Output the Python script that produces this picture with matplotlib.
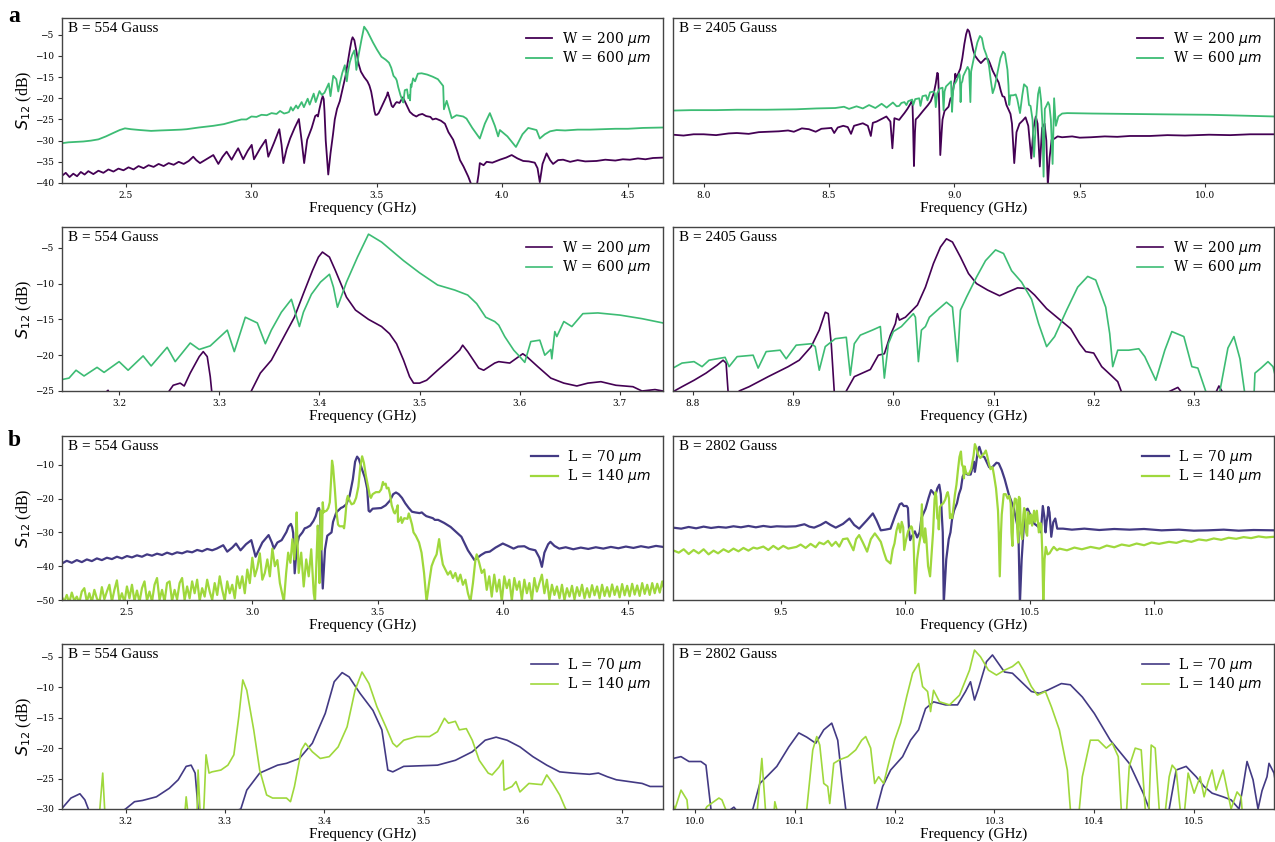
import matplotlib.pyplot as plt
import numpy as np

# S12 transmission spectra, columns: frequency (GHz), S12 (dB)
W200_554 = np.array([
    (2.245, -38.3), (2.26, -37.6), (2.275, -38.6), (2.29, -37.8), (2.305, -38.4), (2.32, -37.4),
    (2.335, -38.0), (2.35, -37.2), (2.37, -37.9), (2.39, -37.1), (2.41, -37.6), (2.43, -36.8),
    (2.45, -37.3), (2.47, -36.6), (2.49, -37.0), (2.51, -36.3), (2.53, -36.8), (2.55, -36.0),
    (2.57, -36.5), (2.59, -35.8), (2.61, -36.2), (2.63, -35.5), (2.65, -36.0), (2.67, -35.3),
    (2.69, -35.7), (2.71, -35.0), (2.73, -35.5), (2.75, -34.8), (2.768, -33.8), (2.78, -34.6),
    (2.795, -35.3), (2.82, -34.4), (2.848, -33.4), (2.868, -35.5), (2.885, -33.8), (2.901, -32.6),
    (2.921, -34.5), (2.935, -33.0), (2.947, -31.8), (2.967, -34.4), (2.985, -32.4), (3.001, -31.0),
    (3.010, -34.4), (3.035, -31.8), (3.057, -29.8), (3.067, -33.8), (3.09, -30.5), (3.111, -27.3),
    (3.120, -31.0), (3.127, -35.3), (3.14, -32.0), (3.154, -29.5), (3.172, -27.0), (3.189, -24.9),
    (3.200, -30.0), (3.210, -35.3), (3.222, -29.8), (3.240, -27.0), (3.250, -25.0), (3.254, -24.2),
    (3.261, -23.9), (3.265, -24.3), (3.271, -22.5), (3.280, -20.2), (3.284, -19.5), (3.288, -20.2),
    (3.291, -23.0), (3.296, -30.0), (3.306, -38.0), (3.315, -33.0), (3.325, -28.5), (3.332, -25.0),
    (3.341, -22.5), (3.352, -20.7), (3.362, -18.1), (3.375, -14.7), (3.384, -11.4), (3.393, -8.2),
    (3.399, -6.3), (3.403, -5.6), (3.410, -6.3), (3.416, -8.2), (3.427, -11.9), (3.436, -13.7),
    (3.449, -15.0), (3.462, -16.0), (3.470, -17.0), (3.477, -18.4), (3.484, -20.7), (3.490, -23.0),
    (3.494, -23.9), (3.500, -23.9), (3.507, -23.5), (3.518, -22.1), (3.531, -20.5), (3.540, -19.3),
    (3.543, -18.6), (3.548, -19.5), (3.559, -21.8), (3.564, -22.1), (3.575, -21.1), (3.579, -20.9),
    (3.590, -21.1), (3.603, -19.8), (3.607, -20.2), (3.618, -21.6), (3.631, -23.2), (3.644, -23.9),
    (3.657, -24.3), (3.668, -23.9), (3.681, -23.7), (3.696, -24.2), (3.713, -24.4), (3.722, -25.0),
    (3.735, -24.8), (3.755, -25.3), (3.771, -26.0), (3.785, -28.0), (3.804, -29.8), (3.82, -32.5),
    (3.831, -34.6), (3.845, -36.1), (3.864, -38.5), (3.880, -41.0), (3.897, -41.0), (3.905, -38.0),
    (3.910, -35.3), (3.925, -35.8), (3.937, -35.0), (3.96, -35.2), (3.990, -34.5), (4.015, -34.0),
    (4.037, -33.4), (4.06, -34.2), (4.083, -34.8), (4.105, -34.9), (4.129, -35.2), (4.140, -36.5),
    (4.149, -39.8), (4.160, -35.5), (4.176, -33.0), (4.190, -34.6), (4.202, -35.5), (4.222, -34.6),
    (4.242, -34.5), (4.27, -35.0), (4.30, -34.6), (4.33, -34.9), (4.375, -34.8), (4.41, -34.5),
    (4.45, -34.7), (4.48, -34.4), (4.508, -34.5), (4.54, -34.2), (4.57, -34.4), (4.60, -34.1),
    (4.64, -34.0),
])

W600_554 = np.array([
    (2.245, -30.6), (2.27, -30.4), (2.30, -30.3), (2.33, -30.2), (2.36, -30.0), (2.39, -29.7),
    (2.42, -29.0), (2.449, -28.2), (2.475, -27.5), (2.496, -27.1), (2.52, -27.3), (2.556, -27.5),
    (2.60, -27.7), (2.635, -27.6), (2.68, -27.5), (2.72, -27.4), (2.742, -27.3), (2.79, -26.9),
    (2.848, -26.5), (2.89, -26.1), (2.927, -25.5), (2.96, -25.0), (2.98, -25.0), (3.0, -24.3),
    (3.02, -24.4), (3.04, -23.9), (3.061, -24.0), (3.08, -23.5), (3.10, -23.7), (3.114, -23.0),
    (3.13, -23.6), (3.143, -23.4), (3.150, -23.2), (3.157, -22.1), (3.165, -22.9), (3.178, -21.7),
    (3.185, -22.4), (3.200, -20.9), (3.209, -22.1), (3.224, -20.1), (3.232, -21.5), (3.248, -18.9),
    (3.256, -20.9), (3.271, -18.3), (3.280, -19.2), (3.291, -18.7), (3.308, -16.5), (3.315, -19.5),
    (3.326, -14.7), (3.338, -15.5), (3.346, -18.4), (3.352, -16.5), (3.362, -14.0), (3.372, -12.2),
    (3.380, -16.0), (3.384, -14.0), (3.392, -11.5), (3.401, -9.8), (3.410, -8.7), (3.414, -10.5),
    (3.418, -13.3), (3.427, -9.8), (3.438, -6.3), (3.449, -3.1), (3.462, -4.2), (3.484, -6.8),
    (3.500, -8.5), (3.518, -10.2), (3.535, -10.9), (3.548, -11.6), (3.557, -12.8), (3.566, -14.7),
    (3.575, -15.3), (3.579, -15.8), (3.585, -17.4), (3.594, -19.3), (3.600, -20.2), (3.605, -21.0),
    (3.611, -18.1), (3.620, -17.9), (3.625, -20.0), (3.631, -19.2), (3.632, -20.5), (3.635, -16.7),
    (3.637, -17.4), (3.644, -15.3), (3.652, -16.0), (3.663, -14.2), (3.678, -14.1), (3.700, -14.4),
    (3.722, -14.9), (3.743, -15.5), (3.764, -17.1), (3.767, -22.6), (3.778, -20.6), (3.798, -24.7),
    (3.817, -24.0), (3.844, -24.3), (3.857, -24.8), (3.88, -27.0), (3.910, -29.5), (3.93, -26.0),
    (3.950, -23.5), (3.970, -26.5), (3.983, -29.0), (3.990, -27.5), (4.02, -29.0), (4.054, -31.5),
    (4.08, -28.5), (4.103, -27.0), (4.136, -27.5), (4.149, -29.5), (4.169, -28.5), (4.19, -27.8),
    (4.216, -27.5), (4.25, -27.6), (4.30, -27.4), (4.35, -27.4), (4.40, -27.3), (4.45, -27.2),
    (4.50, -27.2), (4.56, -27.0), (4.64, -26.9),
])

W200_2405 = np.array([
    (7.878, -28.6), (7.92, -28.8), (7.96, -28.5), (8.0, -28.5), (8.05, -28.7), (8.10, -28.3),
    (8.133, -28.2), (8.18, -28.4), (8.22, -28.0), (8.259, -27.9), (8.30, -27.8), (8.337, -27.6),
    (8.36, -27.9), (8.392, -27.1), (8.42, -27.3), (8.447, -27.9), (8.47, -27.2), (8.51, -27.0),
    (8.521, -28.2), (8.535, -26.9), (8.557, -26.5), (8.575, -26.8), (8.588, -28.4), (8.60, -26.5),
    (8.635, -25.9), (8.655, -26.5), (8.667, -28.9), (8.675, -25.8), (8.69, -25.5), (8.729, -24.3),
    (8.745, -25.5), (8.753, -31.8), (8.761, -24.7), (8.780, -25.1), (8.789, -24.4), (8.801, -23.5),
    (8.813, -22.5), (8.824, -21.4), (8.830, -20.7), (8.833, -21.1), (8.835, -25.1), (8.839, -36.0),
    (8.843, -28.0), (8.846, -25.0), (8.856, -24.4), (8.875, -23.0), (8.895, -21.6), (8.906, -20.7),
    (8.918, -18.8), (8.926, -16.5), (8.932, -14.0), (8.935, -14.2), (8.938, -18.4), (8.941, -25.1),
    (8.944, -33.4), (8.950, -27.5), (8.953, -25.0), (8.961, -23.0), (8.969, -22.5), (8.977, -22.0),
    (8.985, -20.0), (8.991, -19.8), (8.997, -17.2), (9.002, -15.6), (9.004, -14.2), (9.006, -15.1),
    (9.012, -14.7), (9.024, -13.0), (9.032, -10.5), (9.040, -7.2), (9.047, -4.9), (9.053, -3.75),
    (9.059, -4.2), (9.067, -6.3), (9.075, -8.6), (9.083, -10.0), (9.094, -10.9), (9.106, -11.7),
    (9.114, -11.2), (9.124, -10.6), (9.134, -10.7), (9.141, -11.6), (9.153, -13.5), (9.165, -14.9),
    (9.177, -16.3), (9.186, -18.4), (9.192, -19.5), (9.200, -19.7), (9.208, -21.6), (9.218, -22.9),
    (9.224, -23.7), (9.230, -26.0), (9.239, -35.3), (9.248, -28.0), (9.260, -26.0), (9.272, -25.3),
    (9.284, -24.5), (9.295, -26.5), (9.307, -34.2), (9.316, -27.0), (9.325, -24.3), (9.332, -26.0),
    (9.341, -36.1), (9.350, -27.0), (9.360, -26.0), (9.367, -30.0), (9.373, -40.5), (9.380, -34.0),
    (9.388, -29.8), (9.400, -29.5), (9.412, -29.0), (9.43, -29.2), (9.47, -29.0), (9.50, -29.3),
    (9.545, -29.2), (9.60, -29.0), (9.65, -29.1), (9.70, -28.9), (9.78, -28.9), (9.85, -28.7),
    (9.92, -28.8), (10.016, -28.6), (10.10, -28.7), (10.18, -28.5), (10.28, -28.5),
])

W600_2405 = np.array([
    (7.878, -22.9), (7.95, -22.8), (8.05, -22.8), (8.133, -22.7), (8.25, -22.7), (8.369, -22.6),
    (8.45, -22.4), (8.525, -22.3), (8.56, -22.0), (8.58, -22.5), (8.61, -21.9), (8.635, -22.4),
    (8.66, -21.6), (8.685, -22.3), (8.71, -21.3), (8.73, -22.2), (8.755, -21.0), (8.77, -21.9),
    (8.780, -21.8), (8.789, -21.1), (8.801, -20.9), (8.809, -21.6), (8.816, -20.7), (8.832, -20.3),
    (8.836, -21.6), (8.844, -20.2), (8.860, -20.0), (8.865, -21.8), (8.873, -19.5), (8.887, -19.3),
    (8.893, -20.5), (8.903, -18.6), (8.918, -18.4), (8.922, -18.8), (8.926, -22.1), (8.932, -18.8),
    (8.942, -17.7), (8.953, -17.5), (8.957, -22.8), (8.961, -18.4), (8.967, -17.2), (8.979, -16.5),
    (8.987, -16.0), (8.991, -23.2), (8.995, -18.4), (9.000, -16.7), (9.008, -16.0), (9.020, -14.2),
    (9.022, -14.7), (9.025, -20.9), (9.028, -16.5), (9.032, -16.0), (9.036, -14.7), (9.044, -13.7),
    (9.053, -12.6), (9.059, -13.3), (9.064, -20.9), (9.067, -13.7), (9.073, -11.9), (9.083, -9.1),
    (9.092, -6.8), (9.102, -5.3), (9.110, -5.8), (9.118, -8.2), (9.128, -9.8), (9.138, -12.2),
    (9.145, -15.6), (9.153, -18.8), (9.161, -17.4), (9.173, -13.7), (9.184, -10.5), (9.194, -9.0),
    (9.202, -9.5), (9.212, -13.3), (9.216, -17.0), (9.219, -21.6), (9.224, -19.3), (9.235, -19.3),
    (9.245, -19.1), (9.251, -20.2), (9.262, -23.5), (9.271, -19.3), (9.278, -16.7), (9.290, -17.4),
    (9.298, -21.6), (9.304, -21.8), (9.312, -25.1), (9.318, -33.8), (9.326, -25.0), (9.334, -19.0),
    (9.340, -17.4), (9.346, -20.5), (9.351, -25.5), (9.356, -38.5), (9.361, -22.5), (9.367, -21.8),
    (9.374, -20.9), (9.379, -21.6), (9.385, -25.0), (9.392, -35.5), (9.398, -20.0), (9.405, -26.5),
    (9.415, -24.3), (9.43, -23.6), (9.45, -23.5), (9.55, -23.6), (9.70, -23.7), (9.85, -23.8),
    (10.016, -23.9), (10.15, -24.1), (10.28, -24.3),
])

L70_554 = np.array([
    (2.241, -39.2), (2.26, -38.4), (2.28, -39.0), (2.30, -38.2), (2.32, -38.8), (2.34, -38.0),
    (2.36, -38.5), (2.38, -37.7), (2.40, -38.2), (2.42, -37.5), (2.44, -37.9), (2.46, -37.2),
    (2.48, -37.7), (2.50, -37.0), (2.52, -37.4), (2.54, -36.8), (2.56, -37.2), (2.58, -36.5),
    (2.60, -36.9), (2.62, -36.3), (2.64, -36.7), (2.66, -36.0), (2.68, -36.5), (2.70, -35.9),
    (2.72, -36.2), (2.74, -35.6), (2.76, -35.9), (2.78, -35.2), (2.80, -35.6), (2.82, -34.9),
    (2.84, -35.3), (2.858, -34.8), (2.884, -33.8), (2.90, -35.7), (2.92, -34.5), (2.935, -33.3),
    (2.953, -35.3), (2.975, -33.5), (2.996, -32.3), (3.013, -37.2), (3.04, -33.0), (3.065, -30.8),
    (3.078, -33.0), (3.086, -34.8), (3.10, -33.0), (3.117, -32.3), (3.136, -29.9), (3.145, -28.2),
    (3.154, -27.5), (3.159, -28.5), (3.163, -30.2), (3.169, -42.1), (3.178, -34.0), (3.186, -31.3),
    (3.200, -30.0), (3.209, -28.8), (3.217, -28.6), (3.231, -28.0), (3.244, -26.6), (3.253, -25.2),
    (3.261, -23.0), (3.266, -22.8), (3.270, -24.1), (3.273, -30.0), (3.281, -46.6), (3.290, -35.0),
    (3.299, -31.0), (3.316, -30.0), (3.322, -26.9), (3.335, -24.1), (3.353, -22.8), (3.362, -22.5),
    (3.375, -21.7), (3.388, -19.2), (3.401, -14.3), (3.410, -9.1), (3.418, -7.6), (3.425, -8.3),
    (3.436, -11.0), (3.449, -13.8), (3.458, -17.0), (3.464, -23.6), (3.469, -23.9), (3.480, -23.0),
    (3.497, -22.9), (3.514, -22.8), (3.532, -22.0), (3.549, -20.6), (3.562, -18.7), (3.573, -18.2),
    (3.584, -18.7), (3.597, -19.8), (3.610, -21.4), (3.624, -22.8), (3.637, -23.9), (3.650, -24.1),
    (3.667, -24.3), (3.676, -24.1), (3.685, -24.7), (3.694, -25.2), (3.707, -25.5), (3.720, -25.8),
    (3.728, -26.3), (3.741, -26.3), (3.765, -27.2), (3.791, -28.4), (3.812, -29.8), (3.834, -31.3),
    (3.86, -35.3), (3.875, -37.0), (3.886, -38.2), (3.900, -37.4), (3.912, -36.7), (3.93, -35.9),
    (3.947, -35.7), (3.97, -34.5), (3.999, -33.3), (4.02, -34.0), (4.042, -34.8), (4.06, -34.2),
    (4.085, -34.1), (4.105, -34.9), (4.129, -35.3), (4.145, -37.5), (4.155, -40.2), (4.165, -36.0),
    (4.18, -33.5), (4.189, -32.8), (4.205, -34.0), (4.224, -34.8), (4.25, -34.4), (4.28, -35.0),
    (4.31, -34.5), (4.34, -34.9), (4.37, -34.4), (4.40, -34.8), (4.43, -34.3), (4.46, -34.7),
    (4.49, -34.2), (4.52, -34.6), (4.55, -34.1), (4.58, -34.5), (4.61, -34.0), (4.638, -34.3),
])

L140_554 = np.array([
    (2.24, -49.0), (2.25, -50.5), (2.26, -48.5), (2.27, -50.8), (2.28, -47.8), (2.29, -50.2),
    (2.30, -49.0), (2.31, -50.8), (2.32, -47.5), (2.33, -46.5), (2.34, -50.5), (2.35, -48.0),
    (2.36, -50.6), (2.37, -47.0), (2.38, -49.5), (2.39, -50.8), (2.40, -46.2), (2.41, -49.8),
    (2.42, -47.5), (2.43, -45.5), (2.44, -50.5), (2.45, -47.0), (2.46, -44.2), (2.47, -50.2),
    (2.48, -48.0), (2.49, -50.7), (2.50, -46.0), (2.51, -49.5), (2.52, -45.5), (2.53, -50.3),
    (2.54, -47.2), (2.55, -50.6), (2.56, -46.5), (2.57, -44.5), (2.58, -50.2), (2.59, -47.5),
    (2.60, -50.5), (2.61, -45.5), (2.62, -43.5), (2.63, -50.0), (2.64, -47.0), (2.65, -50.5),
    (2.66, -45.0), (2.67, -44.5), (2.68, -50.3), (2.69, -47.0), (2.70, -49.8), (2.71, -45.0),
    (2.72, -43.5), (2.73, -50.0), (2.74, -46.0), (2.75, -49.5), (2.76, -44.5), (2.77, -48.0),
    (2.78, -44.0), (2.79, -50.2), (2.80, -46.5), (2.81, -49.0), (2.82, -44.0), (2.83, -47.5),
    (2.84, -50.0), (2.85, -45.0), (2.86, -48.5), (2.87, -43.0), (2.88, -47.0), (2.89, -50.2),
    (2.90, -44.5), (2.91, -48.0), (2.92, -45.5), (2.93, -49.5), (2.94, -43.0), (2.95, -46.5),
    (2.96, -43.0), (2.97, -48.0), (2.98, -41.0), (2.99, -45.0), (3.00, -37.5), (3.01, -43.0),
    (3.02, -40.5), (3.03, -36.2), (3.04, -44.0), (3.05, -42.0), (3.06, -38.0), (3.07, -43.0),
    (3.08, -34.8), (3.09, -40.0), (3.10, -38.2), (3.11, -45.0), (3.12, -48.5), (3.126, -50.5),
    (3.135, -42.0), (3.143, -36.0), (3.152, -39.0), (3.16, -32.0), (3.168, -38.0), (3.174, -30.2),
    (3.177, -24.1), (3.179, -30.2), (3.185, -42.0), (3.195, -36.0), (3.205, -46.0), (3.215, -38.0),
    (3.225, -43.0), (3.235, -35.0), (3.245, -48.0), (3.25, -50.5), (3.255, -40.0), (3.260, -30.0),
    (3.261, -28.0), (3.263, -31.0), (3.268, -45.0), (3.272, -30.5), (3.273, -23.6), (3.275, -30.5),
    (3.277, -35.0), (3.279, -29.1), (3.281, -21.1), (3.284, -24.1), (3.287, -23.9), (3.296, -23.6),
    (3.303, -22.8), (3.309, -21.1), (3.314, -14.8), (3.318, -8.8), (3.322, -10.5), (3.329, -17.0),
    (3.335, -23.6), (3.342, -27.7), (3.348, -28.2), (3.362, -28.2), (3.366, -28.8), (3.370, -26.3),
    (3.377, -20.3), (3.381, -19.2), (3.388, -20.6), (3.396, -21.7), (3.405, -21.4), (3.414, -19.8),
    (3.423, -16.5), (3.431, -10.5), (3.438, -7.5), (3.445, -9.4), (3.453, -13.2), (3.462, -16.5),
    (3.469, -19.2), (3.473, -19.8), (3.480, -18.7), (3.493, -18.1), (3.506, -18.1), (3.514, -17.3),
    (3.521, -15.1), (3.525, -15.9), (3.532, -15.6), (3.536, -17.0), (3.543, -16.8), (3.549, -18.7),
    (3.556, -22.0), (3.565, -24.1), (3.569, -24.4), (3.576, -23.1), (3.580, -22.0), (3.581, -26.9),
    (3.589, -26.3), (3.593, -25.5), (3.597, -27.2), (3.606, -25.8), (3.619, -26.0), (3.624, -24.4),
    (3.630, -25.8), (3.637, -27.7), (3.643, -30.0), (3.652, -31.0), (3.665, -33.0), (3.675, -36.0),
    (3.685, -42.0), (3.695, -50.5), (3.705, -45.0), (3.715, -40.0), (3.725, -38.0), (3.735, -36.5),
    (3.745, -32.0), (3.752, -36.0), (3.76, -39.5), (3.77, -41.0), (3.78, -42.5), (3.79, -41.5),
    (3.80, -43.5), (3.81, -42.0), (3.82, -44.5), (3.83, -42.5), (3.84, -45.5), (3.85, -44.0),
    (3.86, -48.0), (3.87, -50.5), (3.88, -45.0), (3.89, -38.0), (3.895, -36.5), (3.905, -39.0),
    (3.915, -42.0), (3.925, -41.0), (3.935, -47.0), (3.945, -43.0), (3.955, -49.0), (3.965, -42.5),
    (3.975, -47.5), (3.985, -44.0), (3.995, -50.5), (4.005, -43.0), (4.015, -46.5), (4.025, -44.0),
    (4.035, -50.2), (4.045, -43.5), (4.055, -47.0), (4.065, -44.5), (4.075, -50.0), (4.085, -44.0),
    (4.095, -48.0), (4.105, -45.0), (4.115, -50.2), (4.125, -43.5), (4.135, -47.5), (4.145, -45.0),
    (4.155, -42.5), (4.165, -48.0), (4.175, -44.0), (4.185, -50.0), (4.195, -45.5), (4.205, -48.5),
    (4.215, -46.0), (4.225, -49.5), (4.235, -45.5), (4.245, -50.0), (4.255, -46.5), (4.265, -49.0),
    (4.275, -45.8), (4.285, -49.8), (4.295, -46.2), (4.305, -48.8), (4.315, -45.5), (4.325, -49.5),
    (4.335, -46.5), (4.345, -49.2), (4.355, -45.6), (4.365, -48.6), (4.375, -46.0), (4.385, -49.5),
    (4.395, -45.5), (4.405, -48.8), (4.415, -46.2), (4.425, -49.0), (4.435, -45.4), (4.445, -48.5),
    (4.455, -46.0), (4.465, -49.2), (4.475, -45.3), (4.485, -48.6), (4.495, -45.8), (4.505, -48.9),
    (4.515, -45.2), (4.525, -48.4), (4.535, -45.7), (4.545, -48.8), (4.555, -45.0), (4.565, -48.2),
    (4.575, -45.5), (4.585, -48.5), (4.595, -45.0), (4.605, -48.0), (4.615, -45.2), (4.625, -47.8),
    (4.635, -44.5), (4.64, -46.0),
])

L70_2802 = np.array([
    (9.067, -28.6), (9.10, -28.9), (9.13, -28.4), (9.16, -28.8), (9.19, -28.3), (9.22, -28.7),
    (9.25, -28.4), (9.28, -28.6), (9.31, -28.2), (9.34, -28.5), (9.37, -28.1), (9.40, -28.5),
    (9.43, -28.1), (9.46, -28.4), (9.484, -28.2), (9.52, -28.3), (9.56, -28.2), (9.595, -27.6),
    (9.615, -28.3), (9.634, -28.6), (9.66, -27.8), (9.681, -26.9), (9.70, -27.8), (9.721, -28.6),
    (9.75, -27.5), (9.776, -25.9), (9.795, -27.8), (9.815, -28.9), (9.845, -26.5), (9.870, -24.4),
    (9.885, -26.5), (9.902, -29.4), (9.920, -29.2), (9.941, -28.9), (9.960, -25.0), (9.978, -21.7),
    (9.986, -21.4), (9.994, -22.2), (10.006, -22.2), (10.011, -22.8), (10.016, -30.0), (10.020, -32.3),
    (10.028, -31.0), (10.039, -29.7), (10.048, -31.5), (10.058, -30.0), (10.065, -25.8), (10.073, -24.5),
    (10.082, -23.0), (10.094, -19.8), (10.104, -17.5), (10.112, -18.2), (10.121, -19.2), (10.129, -17.0),
    (10.137, -15.9), (10.143, -18.7), (10.147, -24.7), (10.151, -30.0), (10.155, -51.0), (10.165, -38.0),
    (10.175, -32.0), (10.182, -30.0), (10.188, -26.3), (10.196, -23.6), (10.208, -21.4), (10.216, -18.7),
    (10.224, -17.0), (10.231, -13.5), (10.239, -12.4), (10.251, -12.9), (10.263, -12.9), (10.271, -10.7),
    (10.276, -9.1), (10.280, -12.1), (10.284, -10.2), (10.292, -5.8), (10.298, -4.7), (10.304, -6.1),
    (10.310, -7.5), (10.318, -7.7), (10.325, -8.8), (10.337, -10.7), (10.345, -11.0), (10.353, -10.5),
    (10.367, -9.4), (10.376, -9.6), (10.388, -11.6), (10.400, -14.3), (10.416, -18.7), (10.435, -22.5),
    (10.449, -27.4), (10.455, -30.0), (10.461, -51.0), (10.468, -38.0), (10.475, -30.0), (10.482, -23.6),
    (10.492, -23.0), (10.502, -24.7), (10.510, -26.3), (10.518, -27.4), (10.529, -28.0), (10.537, -28.5),
    (10.545, -30.0), (10.549, -26.3), (10.553, -22.2), (10.559, -25.2), (10.564, -30.0), (10.568, -27.0),
    (10.573, -24.7), (10.575, -22.5), (10.580, -24.1), (10.587, -31.3), (10.595, -27.0), (10.603, -25.9),
    (10.611, -28.9), (10.634, -28.9), (10.67, -29.2), (10.72, -28.9), (10.78, -29.3), (10.84, -29.0),
    (10.902, -29.2), (10.96, -29.0), (11.03, -29.4), (11.10, -29.2), (11.16, -29.5), (11.217, -29.4),
    (11.28, -29.2), (11.34, -29.5), (11.40, -29.3), (11.482, -29.4),
])

L140_2802 = np.array([
    (9.067, -35.3), (9.09, -36.0), (9.11, -35.0), (9.13, -36.4), (9.15, -35.2), (9.17, -36.2),
    (9.19, -35.0), (9.21, -36.5), (9.23, -35.4), (9.248, -36.2), (9.27, -35.0), (9.29, -35.8),
    (9.31, -34.8), (9.33, -35.6), (9.35, -34.6), (9.37, -35.4), (9.39, -34.5), (9.405, -34.8),
    (9.43, -34.2), (9.45, -35.2), (9.47, -34.0), (9.49, -35.0), (9.51, -34.0), (9.53, -34.8),
    (9.563, -34.3), (9.58, -33.6), (9.60, -34.6), (9.62, -33.4), (9.64, -34.4), (9.655, -33.0),
    (9.673, -33.5), (9.69, -32.5), (9.705, -34.0), (9.721, -32.8), (9.735, -34.2), (9.75, -32.0),
    (9.768, -31.8), (9.78, -33.5), (9.792, -35.3), (9.803, -32.0), (9.815, -30.8), (9.83, -33.0),
    (9.847, -35.7), (9.862, -32.0), (9.878, -30.3), (9.89, -31.5), (9.902, -32.8), (9.915, -36.0),
    (9.925, -38.2), (9.941, -39.2), (9.950, -35.0), (9.957, -33.3), (9.965, -29.5), (9.973, -27.4),
    (9.980, -30.0), (9.986, -26.9), (9.992, -28.5), (9.996, -35.2), (10.004, -32.0), (10.012, -29.6),
    (10.024, -28.2), (10.027, -28.5), (10.033, -31.0), (10.040, -48.0), (10.048, -38.0), (10.055, -34.0),
    (10.062, -31.0), (10.067, -21.7), (10.071, -31.0), (10.078, -33.0), (10.080, -28.8), (10.085, -32.0),
    (10.092, -40.0), (10.100, -43.0), (10.108, -34.0), (10.112, -30.0), (10.118, -20.3), (10.122, -18.1),
    (10.125, -19.5), (10.129, -25.8), (10.133, -26.3), (10.135, -29.1), (10.139, -22.5), (10.145, -21.9),
    (10.153, -21.4), (10.161, -20.3), (10.167, -18.7), (10.171, -18.1), (10.176, -20.0), (10.180, -25.8),
    (10.184, -24.7), (10.189, -25.8), (10.194, -22.5), (10.200, -18.7), (10.206, -15.9), (10.212, -11.6),
    (10.218, -7.7), (10.224, -6.1), (10.228, -9.9), (10.233, -10.7), (10.236, -14.0), (10.239, -10.5),
    (10.245, -12.4), (10.255, -12.9), (10.265, -11.3), (10.275, -7.2), (10.280, -3.9), (10.286, -5.0),
    (10.294, -7.2), (10.302, -8.0), (10.310, -7.2), (10.318, -6.6), (10.324, -5.8), (10.329, -7.2),
    (10.337, -9.9), (10.343, -11.3), (10.351, -10.7), (10.357, -13.2), (10.365, -17.0), (10.373, -23.6),
    (10.376, -30.0), (10.380, -43.0), (10.385, -30.0), (10.388, -24.7), (10.396, -18.7), (10.404, -18.7),
    (10.412, -20.0), (10.418, -19.2), (10.424, -21.4), (10.427, -30.0), (10.431, -34.0), (10.435, -23.0),
    (10.441, -20.0), (10.447, -20.3), (10.451, -30.0), (10.454, -33.0), (10.457, -19.5), (10.461, -20.0),
    (10.465, -30.0), (10.470, -32.0), (10.475, -24.7), (10.478, -22.8), (10.482, -23.6), (10.486, -30.0),
    (10.490, -31.0), (10.494, -24.1), (10.500, -27.4), (10.506, -24.7), (10.510, -28.0), (10.514, -25.5),
    (10.518, -23.6), (10.522, -26.9), (10.529, -23.6), (10.537, -30.0), (10.543, -27.2), (10.547, -28.0),
    (10.551, -36.2), (10.555, -51.0), (10.560, -38.0), (10.565, -34.3), (10.572, -36.5), (10.580, -36.2),
    (10.590, -35.0), (10.597, -34.3), (10.610, -35.3), (10.62, -34.8), (10.65, -35.3), (10.68, -34.5),
    (10.71, -35.0), (10.745, -34.3), (10.78, -34.8), (10.81, -33.9), (10.84, -34.4), (10.87, -33.6),
    (10.90, -34.0), (10.93, -33.3), (10.96, -33.8), (10.99, -33.0), (11.02, -33.4), (11.06, -32.8),
    (11.09, -33.1), (11.12, -32.4), (11.15, -32.8), (11.18, -32.1), (11.21, -32.4), (11.24, -31.8),
    (11.27, -32.2), (11.30, -31.6), (11.33, -31.9), (11.36, -31.4), (11.39, -31.7), (11.42, -31.2),
    (11.45, -31.5), (11.482, -31.3),
])

width_labels = ['W = 200 $\\mu m$', 'W = 600 $\\mu m$']
length_labels = ['L = 70 $\\mu m$', 'L = 140 $\\mu m$']
width_colors = ['#440154', '#3dbc74']
length_colors = ['#433a84', '#9fd83c']

SERIF = 'Liberation Serif'
W, H = 1275, 842


def rect(x0, y0, x1, y1):
    return [x0 / W, 1 - y1 / H, (x1 - x0) / W, (y1 - y0) / H]


panels = [
    # (position, series, colours, labels, field, xlim, ylim, xticks, yticks, line width)
    (rect(62, 18, 663, 183), (W200_554, W600_554), width_colors, width_labels, 554,
     (2.245, 4.64), (-40, -1.05), np.arange(2.5, 4.51, 0.5), np.arange(-40, -4, 5), 1.3),
    (rect(673, 18, 1274, 183), (W200_2405, W600_2405), width_colors, width_labels, 2405,
     (7.878, 10.275), (-40, -1.05), np.arange(8.0, 10.01, 0.5), None, 1.3),
    (rect(62, 227, 663, 391), (W200_554, W600_554), width_colors, width_labels, 554,
     (3.143, 3.743), (-25, -2.1), np.arange(3.2, 3.71, 0.1), np.arange(-25, -4, 5), 1.2),
    (rect(673, 227, 1274, 391), (W200_2405, W600_2405), width_colors, width_labels, 2405,
     (8.78, 9.38), (-25, -2.1), np.arange(8.8, 9.31, 0.1), None, 1.2),
    (rect(62, 436, 663, 600), (L70_554, L140_554), length_colors, length_labels, 554,
     (2.241, 4.638), (-50, -1.5), np.arange(2.5, 4.51, 0.5), np.arange(-50, -9, 10), 1.6),
    (rect(673, 436, 1274, 600), (L70_2802, L140_2802), length_colors, length_labels, 2802,
     (9.067, 11.482), (-50, -1.5), np.arange(9.5, 11.01, 0.5), None, 1.6),
    (rect(62, 644, 663, 809), (L70_554, L140_554), length_colors, length_labels, 554,
     (3.136, 3.741), (-30, -2.9), np.arange(3.2, 3.71, 0.1), np.arange(-30, -4, 5), 1.2),
    (rect(673, 644, 1274, 809), (L70_2802, L140_2802), length_colors, length_labels, 2802,
     (9.978, 10.58), (-30, -2.9), np.arange(10.0, 10.51, 0.1), None, 1.2),
]

fig = plt.figure(figsize=(12.75, 8.42), dpi=100)

for pos, series, colors, labels, field, xlim, ylim, xticks, yticks, lw in panels:
    ax = fig.add_axes(pos)
    for data, c, lab in zip(series, colors, labels):
        ax.plot(data[:, 0], data[:, 1], color=c, lw=lw, label=lab)
    ax.set_xlim(*xlim)
    ax.set_ylim(*ylim)
    ax.set_xticks(xticks)
    ax.set_xticklabels([f'{t:.1f}' for t in xticks], family='DejaVu Serif', fontsize=6.5)
    if yticks is not None:
        ax.set_yticks(yticks)
        ax.set_yticklabels([f'\u2212{abs(t)}' for t in yticks], family='DejaVu Serif', fontsize=6.5)
        ax.set_ylabel('$S_{12}$ (dB)', family=SERIF, fontsize=11.5)
        ax.yaxis.set_label_coords(-0.046, 0.5)
    else:
        ax.set_yticks([])
    ax.tick_params(length=3, width=0.8, color='#333333', pad=3)
    for sp in ax.spines.values():
        sp.set_color('#444444')
        sp.set_linewidth(1.0)
    ax.set_xlabel('Frequency (GHz)', family=SERIF, fontsize=11, labelpad=1)
    ax.text(0.01, 0.975, f'B = {field} Gauss', transform=ax.transAxes,
            family=SERIF, fontsize=11, va='top', ha='left')
    ax.legend(loc='upper right', frameon=False, handlelength=1.9, handletextpad=0.7,
              prop={'family': 'DejaVu Serif', 'size': 10}, borderaxespad=0.45,
              labelspacing=0.12)

fig.text(8 / W, 1 - 6 / H, 'a', family=SERIF, fontsize=17, fontweight='bold', va='top')
fig.text(8 / W, 1 - 430 / H, 'b', family=SERIF, fontsize=17, fontweight='bold', va='top')

fig.savefig('out.png', dpi=100)
